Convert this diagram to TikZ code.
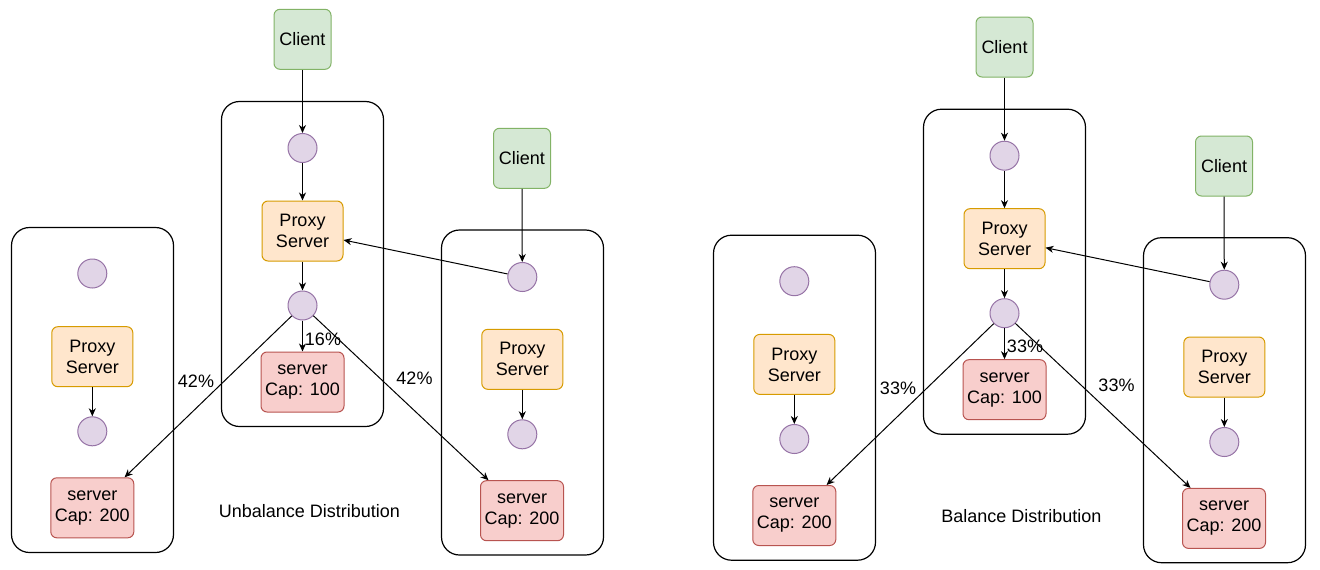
\documentclass[tikz,border=0pt]{standalone}
\usepackage{fontspec}
\setmainfont{Liberation Sans}
\usetikzlibrary{arrows.meta}
\definecolor{cgfill}{HTML}{D5E8D4}\definecolor{cgline}{HTML}{82B366}
\definecolor{cofill}{HTML}{FFE6CC}\definecolor{coline}{HTML}{D79B00}
\definecolor{crfill}{HTML}{F8CECC}\definecolor{crline}{HTML}{B85450}
\definecolor{cpfill}{HTML}{E1D5E7}\definecolor{cpline}{HTML}{9673A6}
\tikzset{
  every node/.style={font=\fontsize{18}{21}\selectfont, inner sep=0pt, align=center},
  container/.style={draw=black, line width=1.2pt, rounded corners=18pt, minimum width=162pt, minimum height=325pt},
  clientbox/.style={draw=cgline, fill=cgfill, line width=1pt, rounded corners=6pt, minimum width=57pt, minimum height=60pt},
  proxybox/.style={draw=coline, fill=cofill, line width=1pt, rounded corners=6pt, minimum width=81pt, minimum height=60pt},
  serverbox/.style={draw=crline, fill=crfill, line width=1pt, rounded corners=6pt, minimum width=83pt, minimum height=60pt},
  dot/.style={draw=cpline, fill=cpfill, line width=1pt, circle, minimum size=29pt},
  conn/.style={draw=black, line width=1pt, -{Stealth[length=8pt,width=7pt,inset=2.5pt]}},
  pct/.style={font=\fontsize{18}{21}\selectfont},
}
\newcommand\halfdiag[6]{%
\begin{scope}[shift={(#2,#3)}]
  % containers
  \node[container] (#1boxM) at (302.5,264) {};
  \node[container] (#1boxL) at (92.5,390) {};
  \node[container] (#1boxR) at (522.5,392.5) {};
  % middle group
  \node[clientbox] (#1cliM) at (302.5,39.3) {Client};
  \node[dot] (#1dotMa) at (302.5,148) {};
  \node[proxybox] (#1prxM) at (302.5,231) {Proxy\\Server};
  \node[dot] (#1dotMb) at (302.5,305.5) {};
  \node[serverbox] (#1srvM) at (302.5,382) {server\\Cap: 100};
  % left group
  \node[dot] (#1dotLa) at (92.3,273.5) {};
  \node[proxybox] (#1prxL) at (92.3,356.7) {Proxy\\Server};
  \node[dot] (#1dotLb) at (92.3,431.3) {};
  \node[serverbox] (#1srvL) at (92.3,507.8) {server\\Cap: 200};
  % right group
  \node[clientbox] (#1cliR) at (522,158.3) {Client};
  \node[dot] (#1dotRa) at (522.3,277) {};
  \node[proxybox] (#1prxR) at (522.3,359.3) {Proxy\\Server};
  \node[dot] (#1dotRb) at (522.3,434.3) {};
  \node[serverbox] (#1srvR) at (522,510.7) {server\\Cap: 200};
  % connectors
  \draw[conn] (#1cliM) -- (#1dotMa);
  \draw[conn] (#1dotMa) -- (#1prxM);
  \draw[conn] (#1prxM) -- (#1dotMb);
  \draw[conn] (#1dotMb) -- (#1srvM);
  \draw[conn] (#1dotMb) -- ([xshift=-9.7pt]#1srvL.north east);
  \draw[conn] (#1dotMb) -- ([xshift=8.5pt]#1srvR.north west);
  \draw[conn] (#1prxL) -- (#1dotLb);
  \draw[conn] (#1cliR) -- (#1dotRa);
  \draw[conn] (#1dotRa) -- ([yshift=-9pt]#1prxM.east);
  \draw[conn] (#1prxR) -- (#1dotRb);
  % labels
  \node[pct] (#1pM) at (323,339) {#4};
  \node[pct] (#1pL) at (196,381) {#5};
  \node[pct] (#1pR) at (414.5,378) {#6};
\end{scope}}
\begin{document}
\begin{tikzpicture}[x=1pt,y=-1pt]
  \useasboundingbox[fill=white] (0,0) rectangle (1320,570);
  \halfdiag{u}{0}{0}{16\%}{42\%}{42\%}
  \halfdiag{b}{702}{7.7}{33\%}{33\%}{33\%}
  \node (capU) at (309.5,511) {Unbalance Distribution};
  \node (capB) at (1021.5,516) {Balance Distribution};
\end{tikzpicture}
\end{document}
